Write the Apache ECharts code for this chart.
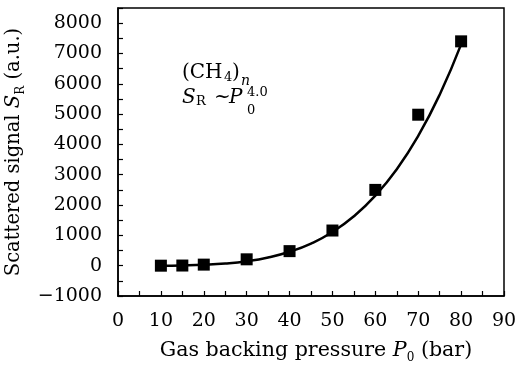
<!DOCTYPE html>
<html>
<head>
<meta charset="utf-8">
<script src="https://cdn.jsdelivr.net/npm/echarts@6/dist/echarts.min.js"></script>
<style>
  html, body { margin: 0; padding: 0; background: #fff; }
  #chart { width: 520px; height: 369px; }
</style>
</head>
<body>
<div id="chart"></div>
<script>
// measured points (P0 in bar, signal in a.u.)
const pressure = [10, 15, 20, 30, 40, 50, 60, 70, 80];
const signal = [0, 5, 35, 210, 480, 1160, 2500, 4980, 7400];

// fitted curve
const fitPressure = [10, 15, 20, 25, 30, 35, 40, 45, 50, 55, 60, 65, 70, 75, 80];
const fitSignal = [0, 10, 30, 70, 145, 270, 460, 730, 1110, 1630, 2310, 3180, 4280, 5640, 7300];

const FONT = "DejaVu Serif";

const chart = echarts.init(document.getElementById("chart"));

function nameStyle(size, padding) {
  return {
    fontFamily: FONT, fontSize: size, lineHeight: 26, color: "#000", padding: padding,
    rich: {
      i: { fontFamily: FONT, fontSize: size, lineHeight: 26, fontStyle: "italic", color: "#000" },
      s: { fontFamily: FONT, fontSize: 12, lineHeight: 14, verticalAlign: "bottom", color: "#000" }
    }
  };
}

function txt(text, left, top, font) {
  return { type: "text", left: left, top: top, style: { text: text, font: font + " " + FONT, fill: "#000" } };
}

chart.setOption({
  animation: false,
  backgroundColor: "#fff",
  grid: {
    left: 118, right: 16, top: 8, bottom: 73,
    outerBoundsMode: "none",
    containLabel: false,
    show: true, borderColor: "#000", borderWidth: 1.5
  },
  xAxis: {
    type: "value",
    min: 0, max: 90, interval: 5,
    name: "Gas backing pressure {i|P}{s|0} (bar)",
    nameLocation: "middle",
    nameGap: 42,
    nameTextStyle: nameStyle(20.6, [0, 0, 0, 10]),
    axisLine: { onZero: false, lineStyle: { color: "#000", width: 1.5 } },
    axisTick: { inside: true, length: 5, lineStyle: { color: "#000", width: 1.2 } },
    axisLabel: {
      margin: 16, color: "#000", fontFamily: FONT, fontSize: 19,
      formatter: v => (v % 10 === 0 ? String(v) : "")
    },
    splitLine: { show: false }
  },
  yAxis: {
    type: "value",
    min: -1000, max: 8500, interval: 500,
    name: "Scattered signal {i|S}{s|R} (a.u.)",
    nameLocation: "middle",
    nameGap: 83,
    nameTextStyle: nameStyle(19.5, 0),
    axisLine: { onZero: false, lineStyle: { color: "#000", width: 1.5 } },
    axisTick: { inside: true, length: 5, lineStyle: { color: "#000", width: 1.2 } },
    axisLabel: {
      margin: 16, color: "#000", fontFamily: FONT, fontSize: 19,
      formatter: v => (v % 1000 === 0 ? String(v).replace("-", "\u2212") : "")
    },
    splitLine: { show: false }
  },
  graphic: [
    txt("(CH", 182, 63, "20px"),
    txt("4", 224, 71, "13px"),
    txt(")", 232, 63, "20px"),
    txt("n", 241, 74, "italic 14px"),
    txt("S", 182, 88, "italic 20px"),
    txt("R", 196, 95, "13px"),
    txt("~", 214, 88, "20px"),
    txt("P", 229, 88, "italic 20px"),
    txt("0", 247, 104, "13px"),
    txt("4.0", 247, 86, "13px")
  ],
  series: [
    {
      type: "line",
      data: fitPressure.map((p, i) => [p, fitSignal[i]]),
      smooth: true,
      showSymbol: false,
      lineStyle: { color: "#000", width: 2.5 },
      z: 2
    },
    {
      type: "scatter",
      data: pressure.map((p, i) => [p, signal[i]]),
      symbol: "rect",
      symbolSize: 12,
      itemStyle: { color: "#000", opacity: 1 },
      z: 3
    }
  ]
});
</script>
</body>
</html>
